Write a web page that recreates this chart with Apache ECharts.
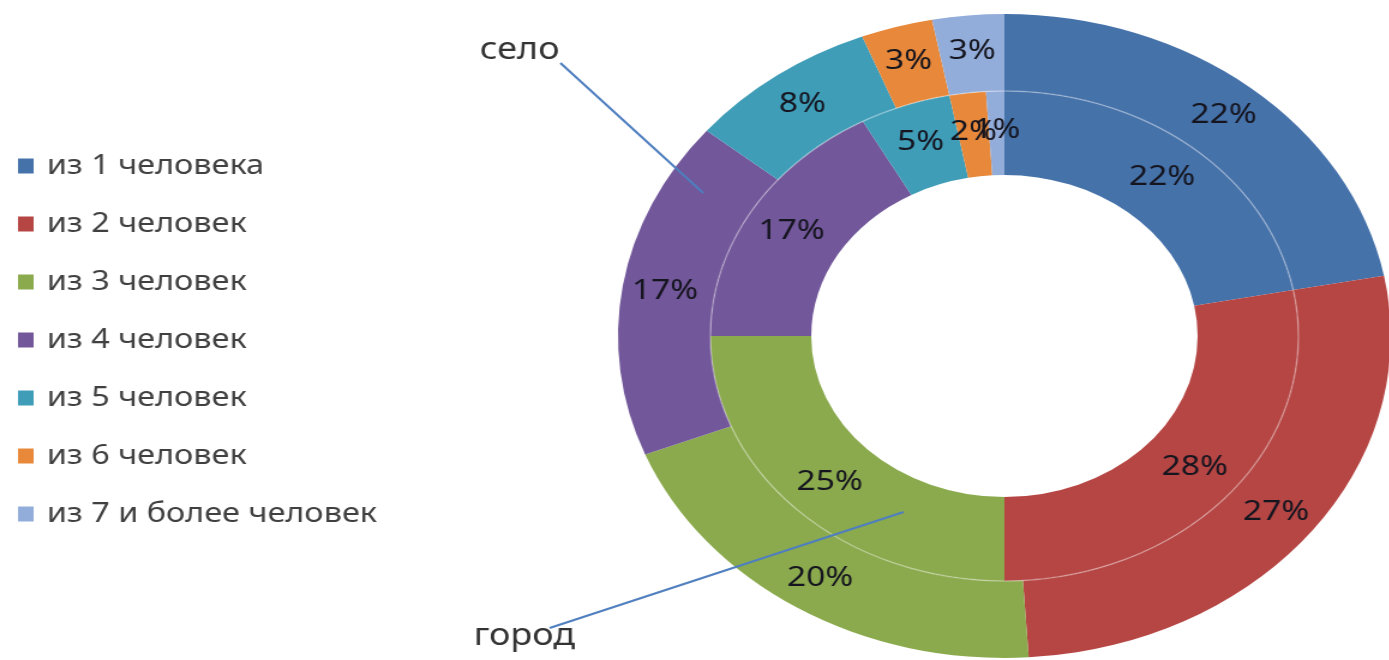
<!DOCTYPE html>
<html>
<head>
<meta charset="utf-8">
<script src="https://cdn.jsdelivr.net/npm/echarts@6/dist/echarts.min.js"></script>
<style>
  html, body { margin: 0; padding: 0; background: #ffffff; overflow: hidden; }
  #wrap { width: 1389px; height: 660px; overflow: hidden; }
  #chart { width: 1157.5px; height: 660px; transform: scaleX(1.2); transform-origin: 0 0; }
</style>
</head>
<body>
<div id="wrap"><div id="chart"></div></div>
<script>
// Household size categories
const categories = ['из 1 человека', 'из 2 человек', 'из 3 человек', 'из 4 человек', 'из 5 человек', 'из 6 человек', 'из 7 и более человек'];
// Inner ring: город (%)
const gorodValues = [22, 28, 25, 17, 5, 2, 1];
// Outer ring: село (%)
const seloValues = [22, 27, 20, 17, 8, 3, 3];
const colors = ['#4672AA', '#B54644', '#8BAA4D', '#72579A', '#3F9DB8', '#E8883A', '#93ADDA'];

const chart = echarts.init(document.getElementById('chart'), null, { renderer: 'canvas' });

const labelStyle = {
  show: true,
  position: 'inside',
  formatter: '{c}%',
  fontFamily: 'Noto Sans',
  fontSize: 28,
  color: '#15151f'
};

const option = {
  animation: false,
  color: colors,
  legend: {
    orient: 'vertical',
    left: 10,
    top: 146,
    itemWidth: 13,
    itemHeight: 15,
    itemGap: 28,
    icon: 'rect',
    selectedMode: false,
    textStyle: { fontFamily: 'Noto Sans', fontSize: 27, color: '#404040', lineHeight: 30, padding: [0, 0, 0, 6] },
    data: categories
  },
  series: [
    {
      name: 'город',
      type: 'pie',
      center: [837, 336],
      radius: [161, 245],
      startAngle: 90,
      clockwise: true,
      silent: true,
      avoidLabelOverlap: false,
      minShowLabelAngle: 0,
      label: labelStyle,
      labelLine: { show: false },
      labelLayout: { hideOverlap: false },
      itemStyle: { borderWidth: 0 },
      data: categories.map((c, i) => ({ name: c, value: gorodValues[i] }))
    },
    {
      name: 'село',
      type: 'pie',
      center: [837, 336],
      radius: [245, 322],
      startAngle: 90,
      clockwise: true,
      silent: true,
      avoidLabelOverlap: false,
      minShowLabelAngle: 0,
      label: labelStyle,
      labelLine: { show: false },
      labelLayout: { hideOverlap: false },
      itemStyle: { borderWidth: 0 },
      data: categories.map((c, i) => ({ name: c, value: seloValues[i] }))
    }
  ],
  graphic: [
    {
      type: 'circle',
      shape: { cx: 837, cy: 336, r: 245 },
      style: { fill: 'none', stroke: 'rgba(255,255,255,0.3)', lineWidth: 1.5 },
      silent: true,
      z: 10
    },
    {
      type: 'line',
      shape: { x1: 467, y1: 63, x2: 586, y2: 193 },
      style: { stroke: '#4F7FBF', lineWidth: 2 },
      silent: true,
      z: 11
    },
    {
      type: 'line',
      shape: { x1: 458, y1: 628, x2: 753, y2: 512 },
      style: { stroke: '#4F7FBF', lineWidth: 2 },
      silent: true,
      z: 11
    },
    {
      type: 'text',
      x: 433, y: 50,
      style: { text: 'село', fontFamily: 'Noto Sans', fontSize: 30, fill: '#333333', align: 'center', verticalAlign: 'middle' },
      silent: true,
      z: 12
    },
    {
      type: 'text',
      x: 437, y: 636,
      style: { text: 'город', fontFamily: 'Noto Sans', fontSize: 30, fill: '#333333', align: 'center', verticalAlign: 'middle' },
      silent: true,
      z: 12
    }
  ]
};

chart.setOption(option);
</script>
</body>
</html>
